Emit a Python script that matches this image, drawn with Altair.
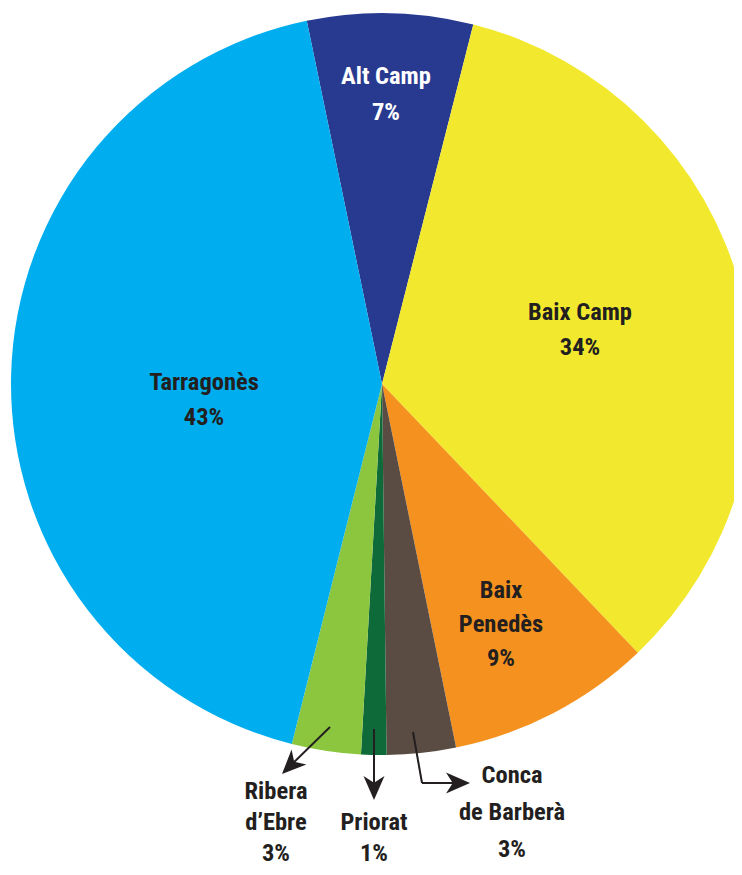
import math
import altair as alt
import pandas as pd

# ---- data ----
comarques = ["Alt Camp", "Baix Camp", "Baix Penedès", "Conca de Barberà",
             "Priorat", "Ribera d’Ebre", "Tarragonès"]
shares = [7.2, 33.9, 8.9, 3.0, 1.1, 3.0, 42.8]
pct_labels = ["7%", "34%", "9%", "3%", "1%", "3%", "43%"]
label_names = ["Alt Camp", "Baix Camp", "Baix\nPenedès", "Conca\nde Barberà",
               "Priorat", "Ribera\nd’Ebre", "Tarragonès"]
colors = ["#283a8f", "#f2e92e", "#f5921f", "#5a4b43", "#0e6a38", "#8cc63f", "#00aeef"]

# ---- layout (annotation positions, chart pixel coords) ----
W, H = 726, 859
CX, CY, R = 374, 376, 371
START = math.radians(-11.7)
label_x = [378, 572, 493, 504, 366, 268, 196]
label_y = [76, 312, 590, 775, 822, 791, 382]
label_lh = [36, 35, 34, 37, 31, 31, 35]
label_color = ["#ffffff", "#231f20", "#231f20", "#231f20", "#231f20", "#231f20", "#231f20"]

leader_x = [322, 366, 405, 414]
leader_y = [719, 721, 724, 775]
leader_x2 = [279, 366, 414, 452]
leader_y2 = [761, 782, 775, 775]

tip_x = [274, 366, 462]
tip_y = [766, 792, 775]
tip_angle = [225, 180, 90]

slices = pd.DataFrame({
    "comarca": comarques,
    "share": shares,
    "order": list(range(len(comarques))),
})

labels = pd.DataFrame({
    "text": [f"{n}\n{p}" for n, p in zip(label_names, pct_labels)],
    "x": label_x,
    "y": label_y,
    "c": label_color,
})

leaders = pd.DataFrame({"x": leader_x, "y": leader_y, "x2": leader_x2, "y2": leader_y2})
tips = pd.DataFrame({"x": tip_x, "y": tip_y, "a": tip_angle})

pie = alt.Chart(slices).mark_arc(radius=R, clip=True).encode(
    x=alt.value(CX),
    y=alt.value(CY),
    theta=alt.Theta("share:Q", stack=True,
                    scale=alt.Scale(range=[START, START + 2 * math.pi])),
    order=alt.Order("order:Q"),
    color=alt.Color("comarca:N", scale=alt.Scale(domain=comarques, range=colors),
                    legend=None),
)

FONT = "Roboto Condensed, DejaVu Sans Condensed, sans-serif"

text_layers = []
for lh in sorted(set(label_lh)):
    sub = labels[[l == lh for l in label_lh]]
    text_layers.append(
        alt.Chart(sub).mark_text(
            font=FONT, fontSize=24.5, fontWeight="bold", lineBreak="\n", lineHeight=lh,
            align="center", baseline="alphabetic",
        ).encode(
            x=alt.X("x:Q", scale=None, axis=None),
            y=alt.Y("y:Q", scale=None, axis=None),
            text="text:N",
            color=alt.Color("c:N", scale=None),
        )
    )

lines = alt.Chart(leaders).mark_rule(color="#231f20", strokeWidth=2).encode(
    x=alt.X("x:Q", scale=None, axis=None),
    y=alt.Y("y:Q", scale=None, axis=None),
    x2="x2:Q",
    y2="y2:Q",
)

heads = alt.Chart(tips).mark_point(
    shape="M0,0 L0.7,1.6 L0,1.15 L-0.7,1.6 Z", filled=True, opacity=1,
    color="#231f20", size=900, strokeWidth=0,
).encode(
    x=alt.X("x:Q", scale=None, axis=None),
    y=alt.Y("y:Q", scale=None, axis=None),
    angle=alt.Angle("a:Q", scale=None),
)

chart = alt.layer(pie, lines, heads, *text_layers).properties(
    width=W, height=H, padding=0,
    autosize=alt.AutoSizeParams(type="none"),
    background="#ffffff",
).configure_view(stroke=None)

chart.save("out.html", embed_options={"renderer": "svg", "actions": False})
